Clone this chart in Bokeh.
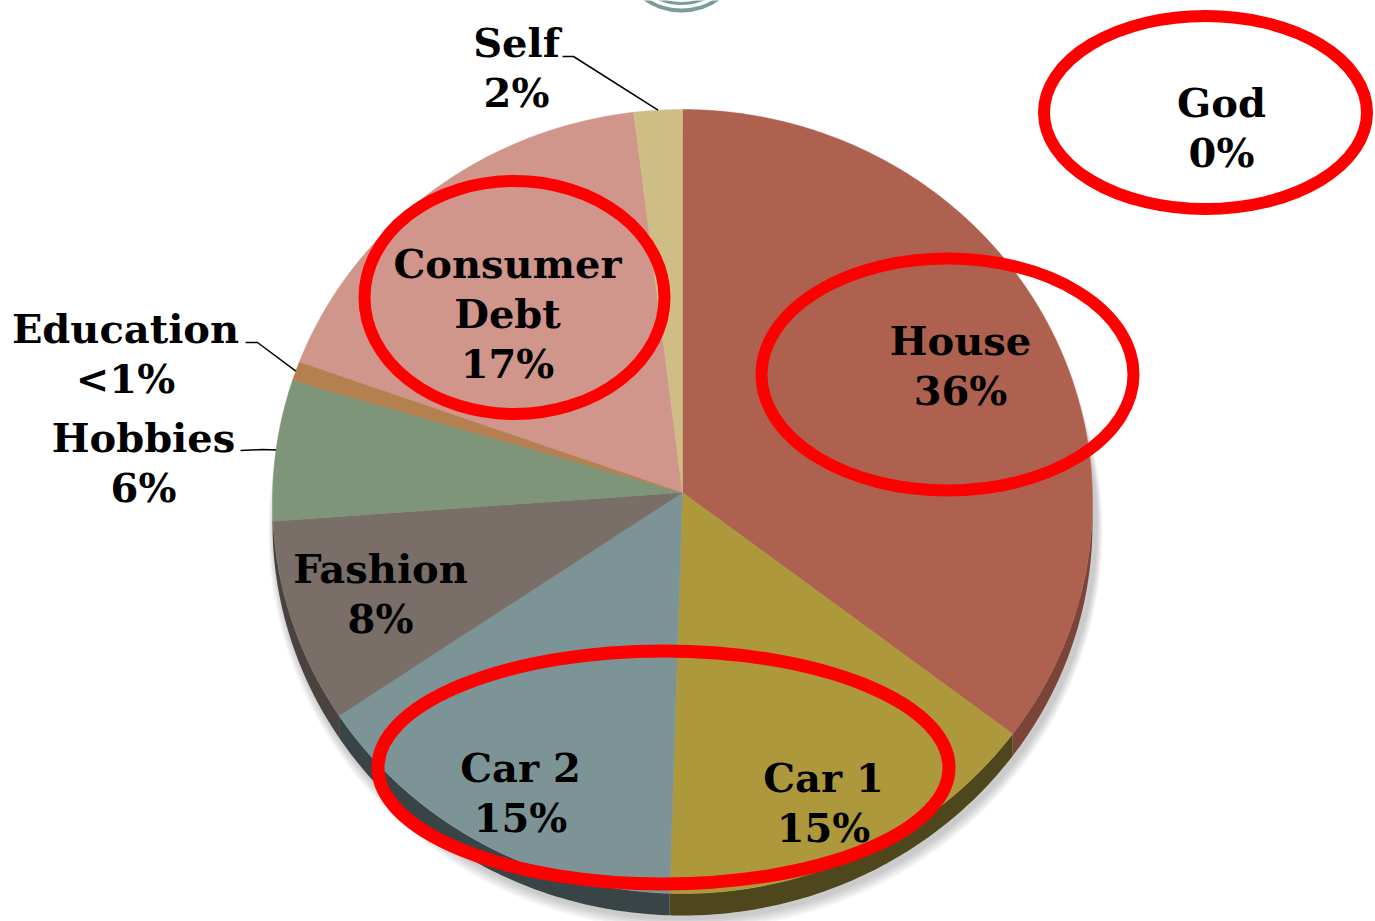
import numpy as np
from bokeh.plotting import figure
from bokeh.models import Range1d
from bokeh.core.properties import value
from bokeh.embed import file_html
from bokeh.resources import INLINE

# ---------------- data ----------------
categories = ["House", "Car 1", "Car 2", "Fashion", "Hobbies", "Education", "Consumer Debt", "Self", "God"]
shares = [35.1, 15.4, 15.3, 8.4, 5.8, 0.8, 17.3, 1.9, 0]
pct_labels = ["36%", "15%", "15%", "8%", "6%", "<1%", "17%", "2%", "0%"]
name_lines = [["House"], ["Car 1"], ["Car 2"], ["Fashion"], ["Hobbies"], ["Education"],
              ["Consumer", "Debt"], ["Self"], ["God"]]
top_colors = ["#AF6150", "#AD993B", "#7D9496", "#7A6E68", "#7F9579", "#B5804F", "#D0958B", "#CEBE86", "#FFFFFF"]
side_colors = ["#7A4438", "#4E461C", "#384446", "#4A423E", "#4E5C4A", "#6E4E30", "#8A5E57", "#8A7F55", "#FFFFFF"]
highlighted = ["God", "House", "Consumer Debt", "Car"]

# ---------------- layout ----------------
W, H = 1375, 921
CX, CY = 682, 501          # ellipse centre of the pie top
AX, AY = 682, 492          # apex where slices meet
RX, RY = 410, 392
DEPTH = 22
FONT = "DejaVu Serif"
FSIZE = "40px"
LINE_GAP = 50

label_pos = {  # centre x, first-line y
    "House": (960, 340), "Car 1": (823, 777), "Car 2": (520, 767), "Fashion": (380, 568),
    "Hobbies": (143, 437), "Education": (125, 328), "Consumer Debt": (507, 263),
    "Self": (516, 42), "God": (1221, 102),
}
leader_knee = {"Self": [(562, 56), (573, 56)], "Education": [(245, 342), (257, 342)],
               "Hobbies": [(240, 450), (262, 449)]}
ring_shapes = {  # centre x, centre y, width, height, line width
    "God": (1205, 112, 323, 193, 12),
    "House": (947, 374, 372, 232, 12),
    "Consumer Debt": (514, 297, 300, 233, 12),
    "Car": (663, 767, 571, 233, 13),
}

p = figure(width=W, height=H, x_range=Range1d(0, W), y_range=Range1d(H, 0),
           output_backend="svg", toolbar_location=None, min_border=0)
p.axis.visible = False
p.grid.visible = False
p.outline_line_color = None
p.background_fill_color = "white"


def ell(theta_deg, dy=0.0, grow=0.0):
    t = np.radians(theta_deg)
    return CX + (RX + grow) * np.sin(t), CY - (RY + grow) * np.cos(t) + dy


# cumulative angles
vals = np.array(shares, dtype=float)
ends = np.cumsum(vals) / vals.sum() * 360.0
starts = ends - vals / vals.sum() * 360.0

# soft shadow
full = np.linspace(0, 360, 361)
for k in range(6):
    sx, sy = ell(full, dy=DEPTH + 3 + k, grow=2 + k)
    p.patch(list(sx + 3), list(sy), fill_color="#000000", fill_alpha=0.035, line_color=None)

# side walls (visible for 90..270 deg)
for a0, a1, v, c in zip(starts, ends, shares, side_colors):
    if v <= 0:
        continue
    lo, hi = max(a0, 90.0), min(a1, 270.0)
    if hi <= lo:
        continue
    th = np.linspace(lo, hi, 80)
    x1, y1 = ell(th)
    x2, y2 = ell(th[::-1], dy=DEPTH)
    p.patch(list(np.r_[x1, x2]), list(np.r_[y1, y2]), fill_color=c, line_color=None)

# top faces
for a0, a1, v, c in zip(starts, ends, shares, top_colors):
    if v <= 0:
        continue
    th = np.linspace(a0, a1, max(4, int((a1 - a0) * 2)))
    ex, ey = ell(th)
    p.patch(list(np.r_[AX, ex]), list(np.r_[AY, ey]), fill_color=c, line_color=c, line_width=0.5)

# decorative rings at top
p.ellipse(x=[681, 681], y=[-53, -53], width=[126, 112], height=[126, 112],
          fill_color=None, line_color="#7A9D9B", line_width=[4, 3])

# leader lines
for name in leader_knee:
    i = categories.index(name)
    mid = (starts[i] + ends[i]) / 2
    ex, ey = ell(mid)
    pts = leader_knee[name] + [(ex, ey)]
    p.line([q[0] for q in pts], [q[1] for q in pts], line_color="black", line_width=1.5)

# labels
tx, ty, tt = [], [], []
for name, lines, pct in zip(categories, name_lines, pct_labels):
    x0, y0 = label_pos[name]
    for j, s in enumerate(lines + [pct]):
        tx.append(x0)
        ty.append(y0 + j * LINE_GAP)
        tt.append(s)
p.text(x=tx, y=ty, text=tt, text_font=value(FONT), text_font_size=FSIZE,
       text_font_style="bold", text_align="center", text_baseline="middle", text_color="black")

# red highlight ellipses
for name in highlighted:
    x0, y0, w, h, lw = ring_shapes[name]
    p.ellipse(x=[x0], y=[y0], width=[w], height=[h], fill_color=None,
              line_color="#FF0000", line_width=lw)

open("out.html", "w").write(file_html(p, INLINE))
